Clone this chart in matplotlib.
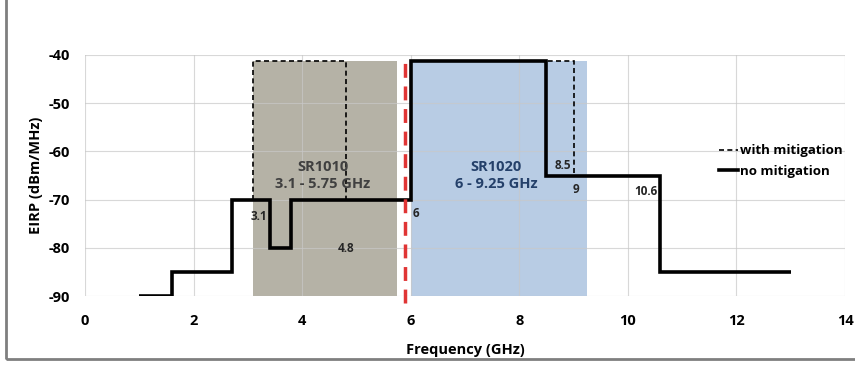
import numpy as np
import matplotlib.pyplot as plt
from matplotlib.lines import Line2D
from matplotlib.patches import Rectangle

# no mitigation mask (step edges in GHz, levels in dBm/MHz)
no_mit_edges = [1.0, 1.6, 2.7, 3.4, 3.8, 6.0, 8.5, 10.6, 13.0]
no_mit_levels = [-90, -85, -70, -80, -70, -41.3, -65, -85]

# with mitigation: extra blocks above the no mitigation line
mit_blocks = [(3.1, 4.8), (8.5, 9.0)]
mit_base = [-70, -65]
mit_top = -41.3

# SR bands
band_names = ["SR1010\n3.1 - 5.75 GHz", "SR1020\n6 - 9.25 GHz"]
band_ranges = [(3.1, 5.75), (6.0, 9.25)]
band_colors = ["#b5b2a6", "#b8cce4"]
band_text_colors = ["#404040", "#24406a"]
band_top = -41.3

red_line_x = 5.9

# small frequency labels (text, x, y)
freq_labels = ["3.1", "4.8", "6", "8.5", "9", "10.6"]
freq_label_x = [3.2, 4.8, 6.1, 8.8, 9.05, 10.33]
freq_label_y = [-73.5, -80.2, -72.8, -63.0, -67.9, -68.3]

plt.rcParams['font.family'] = ['Open Sans', 'DejaVu Sans']
plt.rcParams['axes.unicode_minus'] = False

fig = plt.figure(figsize=(8.55, 3.66), dpi=100)
ax = fig.add_axes([85 / 855, 1 - 296 / 366, 760 / 855, 241 / 366])

for (x0, x1), c in zip(band_ranges, band_colors):
    ax.fill_between([x0, x1], -90, band_top, color=c, linewidth=0, zorder=1)

for (x0, x1), tc, name in zip(band_ranges, band_text_colors, band_names):
    ax.text((x0 + x1) / 2 - 0.05, -65, name, ha='center', va='center',
            fontsize=10.5, fontweight='bold', color=tc, linespacing=1.2, zorder=4)

ax.stairs(no_mit_levels, no_mit_edges, baseline=None, color='black',
          linewidth=2.6, zorder=3)

for (x0, x1), b in zip(mit_blocks, mit_base):
    ax.stairs([mit_top], [x0, x1], baseline=b, color='black',
              linewidth=1.2, linestyle=(0, (3, 2)), zorder=3.5)

ax.plot([red_line_x, red_line_x], [-91.5, -40], color='#e03535',
        linewidth=2.5, linestyle=(0, (4, 2.5)), clip_on=False, zorder=5)

for t, x, y in zip(freq_labels, freq_label_x, freq_label_y):
    ax.text(x, y, t, ha='center', va='center', fontsize=8.5,
            fontweight='bold', color='#262626', zorder=4)

ax.set_xlim(0, 14)
ax.set_ylim(-90, -40)
ax.set_xticks(np.arange(0, 15, 2))
ax.set_yticks(np.arange(-90, -39, 10))
ax.set_axisbelow('line')
ax.grid(True, color='#c8c8c8', linewidth=0.8, alpha=0.7)
for s in ax.spines.values():
    s.set_visible(False)
ax.tick_params(length=0, labelsize=10.5)
ax.tick_params(axis='x', pad=13)
ax.tick_params(axis='y', pad=11)
for lab in ax.get_xticklabels() + ax.get_yticklabels():
    lab.set_fontweight('bold')
ax.set_xlabel("Frequency (GHz)", fontsize=10.5, fontweight='bold', labelpad=11)
ax.set_ylabel("EIRP (dBm/MHz)", fontsize=10.5, fontweight='bold', labelpad=4)

handles = [Line2D([], [], color='black', linewidth=1.2, linestyle=(0, (3, 2))),
           Line2D([], [], color='black', linewidth=2.6)]
ax.legend(handles, ["with mitigation", "no mitigation"], loc='center left',
          bbox_to_anchor=(0.818, 0.56), frameon=False,
          handlelength=1.5, handletextpad=0.1, labelspacing=0.55,
          prop={'weight': 'bold', 'size': 9.5})

fig.patches.append(Rectangle((0.007, 0.02), 1.1, 1.1, transform=fig.transFigure,
                             fill=False, edgecolor='#7f7f7f', linewidth=2))

plt.savefig("out.png", dpi=100)
